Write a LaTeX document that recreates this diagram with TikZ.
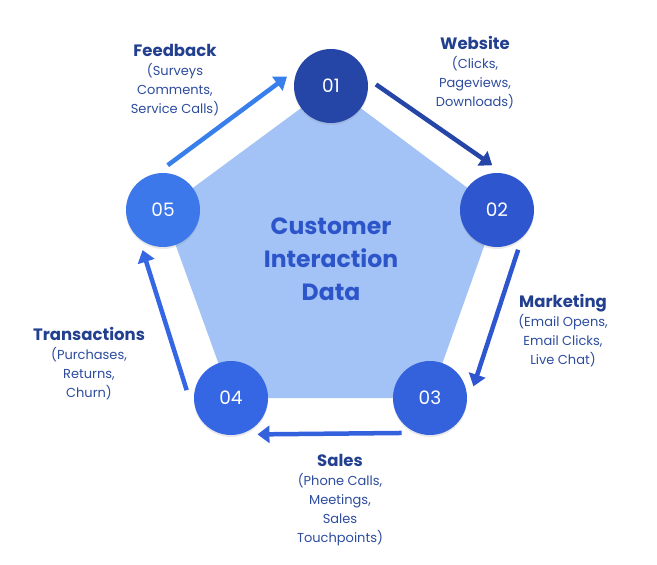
\documentclass[tikz,border=0pt]{standalone}
\usepackage{fontspec}
\setmainfont{Poppins}
\usetikzlibrary{arrows.meta,positioning,calc,backgrounds,shadows}
\definecolor{navy}{HTML}{2546A6}
\definecolor{blueB}{HTML}{2E57CF}
\definecolor{blueC}{HTML}{3461DC}
\definecolor{blueD}{HTML}{3566E3}
\definecolor{blueE}{HTML}{3C78EA}
\definecolor{pent}{HTML}{A3C2F6}
\definecolor{titleblue}{HTML}{2C55C9}
\definecolor{labelnavy}{HTML}{22408F}
\definecolor{subnavy}{HTML}{2D4C9E}
\newcommand{\lbltitle}[1]{{\bfseries\color{labelnavy}\fontsize{16.5}{19}\selectfont #1}}

\begin{document}
\begin{tikzpicture}[
  x=1pt, y=-1pt,
  step circle/.style={circle, minimum size=74pt, inner sep=0pt, outer sep=8pt,
    text=white, font=\fontsize{18.5}{20}\selectfont,
    drop shadow={opacity=0.18, shadow xshift=0pt, shadow yshift=-2pt}},
  arrow/.style={-{Triangle[length=12pt, width=17pt]}, line width=4.5pt},
  info/.style={align=center, text=subnavy, font=\fontsize{13}{19}\selectfont}
]
  \useasboundingbox (0,0) rectangle (657,565);
  % Circles
  \node[step circle, fill=navy]  (c1) at (331,86)  {01};
  \node[step circle, fill=blueB] (c2) at (497,210) {02};
  \node[step circle, fill=blueC] (c3) at (430,398) {03};
  \node[step circle, fill=blueD] (c4) at (231,398) {04};
  \node[step circle, fill=blueE] (c5) at (163,210) {05};
  % Pentagon
  \begin{scope}[on background layer]
    \fill[pent] (c1.center) -- (c2.center) -- (c3.center) -- (c4.center)
      -- (c5.center) -- cycle;
  \end{scope}
  \node[align=center, text=titleblue, font=\bfseries\fontsize{23.5}{33}\selectfont]
    (core) at (331,259) {Customer\\Interaction\\Data};
  % Labels
  \node[info] (feedback) at (175,80)
    {\lbltitle{Feedback}\\(Surveys\\Comments,\\Service Calls)};
  \node[info] (website) at (475,73)
    {\lbltitle{Website}\\(Clicks,\\Pageviews,\\Downloads)};
  \node[info] (marketing) at (563,331)
    {\lbltitle{Marketing}\\(Email Opens,\\Email Clicks,\\Live Chat)};
  \node[info] (sales) at (340,500)
    {\lbltitle{Sales}\\(Phone Calls,\\Meetings,\\Sales\\Touchpoints)};
  \node[info] (transactions) at (89,364)
    {\lbltitle{Transactions}\\(Purchases,\\Returns,\\Churn)};
  % Arrows
  \draw[arrow, navy]  (c1.2)   -- (c2.96);
  \draw[arrow, blueB] (c2.-62) -- (c3.15);
  \draw[arrow, blueC] (c3.231) -- (c4.-54);
  \draw[arrow, blueD] (c4.170) -- (c5.243);
  \draw[arrow, blueE!95!cyan] (c5.84) -- (c1.168);
\end{tikzpicture}
\end{document}
